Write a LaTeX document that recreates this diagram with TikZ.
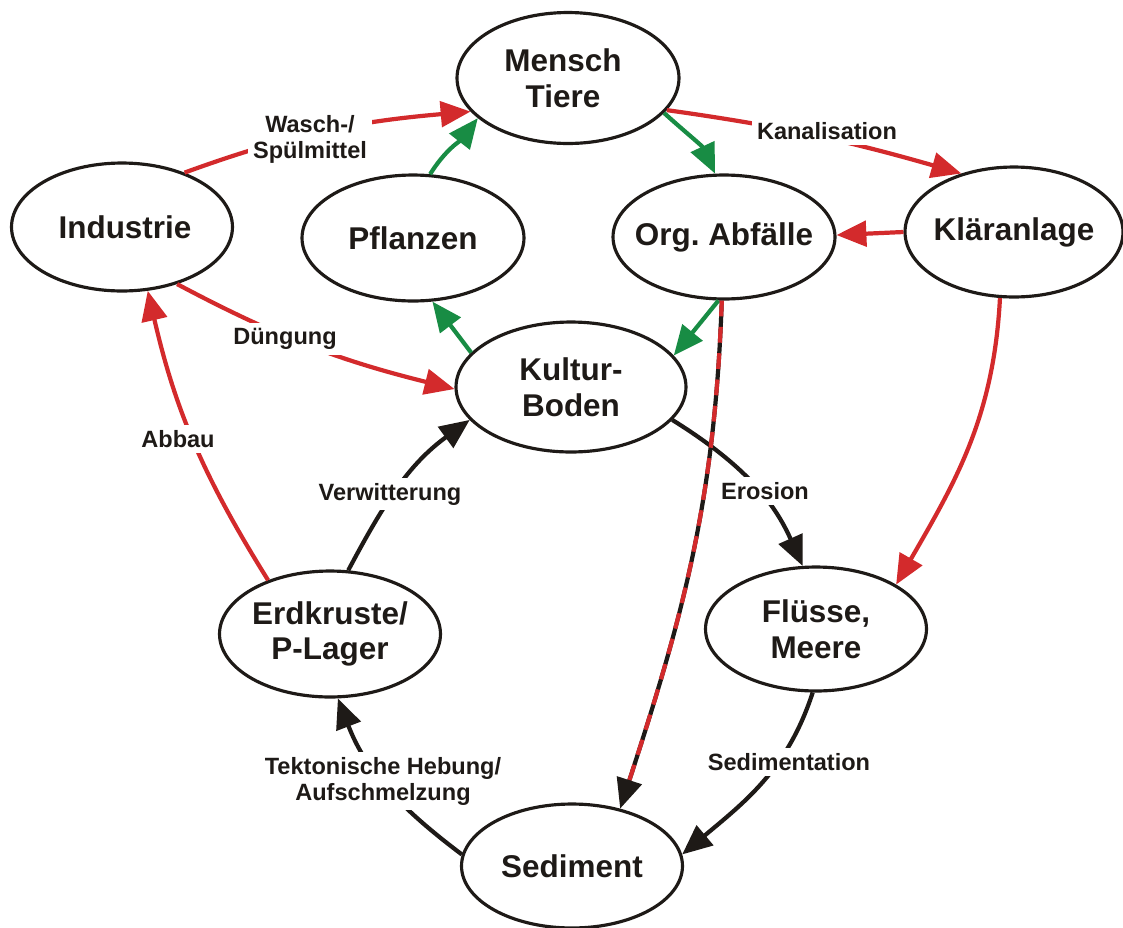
\documentclass[tikz,border=0pt]{standalone}
\usepackage{fontspec}
\setmainfont{Liberation Sans}
\usetikzlibrary{shapes.geometric,arrows.meta}
\definecolor{cred}{RGB}{211,42,44}
\definecolor{cgreen}{RGB}{24,140,68}
\definecolor{cblack}{RGB}{30,26,23}
\tikzset{
  ell/.style={ellipse, draw=cblack, line width=1.8pt, fill=white, inner sep=0pt},
  elltext/.style={align=center, inner sep=0pt, text=cblack, font=\bfseries\fontsize{17.9}{20.4}\selectfont},
  conn/.style={line width=2.4pt, -{Triangle[length=17pt,width=14.5pt]}},
  redc/.style={conn, draw=cred},
  greenc/.style={conn, draw=cgreen},
  blackc/.style={conn, draw=cblack},
  lbl/.style={fill=white, inner sep=3pt, align=center, text=cblack, font=\bfseries\fontsize{13.4}{14.8}\selectfont},
}
\begin{document}
\begin{tikzpicture}[x=0.02cm,y=-0.02cm]
\useasboundingbox (0,0) rectangle (1123,927);
% nodes
\node[ell, minimum width=4.44cm, minimum height=2.62cm, label={[elltext, xshift=-0.1cm]center:Mensch\\Tiere}] (mensch) at (568,78) {};
\node[ell, minimum width=4.42cm, minimum height=2.56cm, label={[elltext, xshift=0.06cm]center:Industrie}] (industrie) at (122,227) {};
\node[ell, minimum width=4.44cm, minimum height=2.52cm, label={[elltext]center:Pflanzen}] (pflanzen) at (413,238) {};
\node[ell, minimum width=4.44cm, minimum height=2.48cm, label={[elltext]center:Org.\ Abfälle}] (org) at (724,237) {};
\node[ell, minimum width=4.36cm, minimum height=2.60cm, label={[elltext]center:Kläranlage}] (klaer) at (1014,232) {};
\node[ell, minimum width=4.6cm, minimum height=2.6cm, label={[elltext]center:Kultur-\\Boden}] (kultur) at (571,387) {};
\node[ell, minimum width=4.42cm, minimum height=2.52cm, label={[elltext]center:Erdkruste/\\P-Lager}] (erd) at (330,634) {};
\node[ell, minimum width=4.42cm, minimum height=2.48cm, label={[elltext]center:Flüsse,\\Meere}] (fluesse) at (816,629) {};
\node[ell, minimum width=4.42cm, minimum height=2.48cm, label={[elltext]center:Sediment}] (sediment) at (572,866) {};
% connectors
\draw[redc] (industrie.41) to[out=20,in=185] (mensch.199);
\draw[greenc] (pflanzen.75) to[out=58,in=232] (mensch.204);
\draw[redc] (mensch.342) to[out=-8,in=164] (klaer.132);
\draw[greenc] (mensch.340) to[out=-42,in=115] (org.98);
\draw[redc] (klaer.180) -- (org.1);
\draw[greenc] (org.265) -- (kultur.17);
\draw[greenc] (kultur.161) -- (pflanzen.287);
\draw[redc] (industrie.314) to[out=-28,in=166] (kultur.181);
\draw[redc] (erd.139) to[out=122,in=-77] (industrie.292);
\draw[blackc] (erd.74) to[out=62,in=216] (kultur.198);
\draw[blackc] (kultur.342) to[out=-32,in=114] (fluesse.102);
\draw[redc] (klaer.258) to[out=-93,in=60] (fluesse.29);
\draw[blackc] (fluesse.267) to[out=-108,in=40] (sediment.6);
\draw[blackc] (sediment.174) to[out=143,in=-69] (erd.277);
\draw[blackc] (org.268) to[out=-92,in=72] (sediment.50);
\draw[cred, line width=2.4pt, dash pattern=on 9pt off 6pt, shorten >=16pt] (org.268) to[out=-92,in=72] (sediment.50);
% labels
\node[lbl] (lwasch) at (310,139) {Wasch-/\\Spülmittel};
\node[lbl] (lkanal) at (827,131) {Kanalisation};
\node[lbl] (ldueng) at (285,339) {Düngung};
\node[lbl] (labbau) at (178,439) {Abbau};
\node[lbl] (lverw) at (390,494) {Verwitterung};
\node[lbl] (lero) at (765,491) {Erosion};
\node[lbl] (lsed) at (789,762) {Sedimentation};
\node[lbl] (ltekt) at (383,781) {Tektonische Hebung/\\Aufschmelzung};
\end{tikzpicture}
\end{document}
